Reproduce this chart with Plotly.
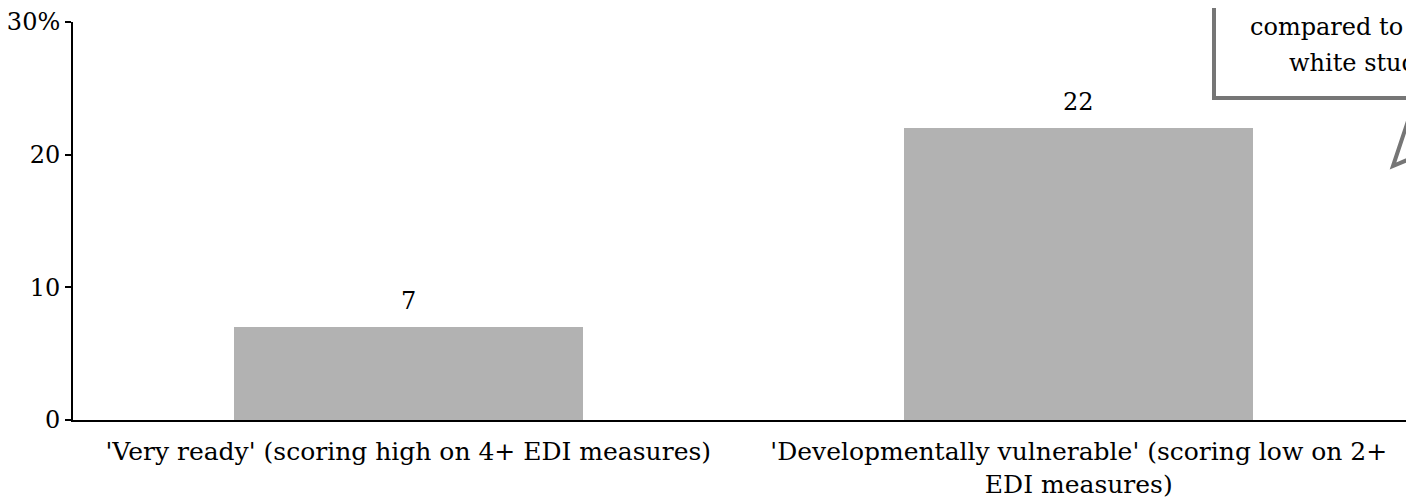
import plotly.graph_objects as go

# data
categories = [
    "'Very ready' (scoring high on 4+ EDI measures)",
    "'Developmentally vulnerable' (scoring low on 2+<br>EDI measures)",
]
values = [7, 22]
y_ticks = [0, 10, 20, 30]
y_tick_labels = ["0", "10", "20", "30%"]
callout_lines = ["compared to their", "white students"]

FONT = "DejaVu Serif, serif"
GREY_LINE = "#767676"

# the page body has an 8px margin, so the figure is sized to fill the rest
PLOT_L, PLOT_T, PLOT_W, PLOT_H = 73, 22, 1341, 398


def px_x(v):
    return (v - PLOT_L) / PLOT_W


def px_y(v):
    return (PLOT_T + PLOT_H - v) / PLOT_H


fig = go.Figure()
fig.add_trace(go.Bar(
    x=list(range(len(categories))),
    y=values,
    width=0.52,
    marker=dict(color="#b2b2b2", line=dict(width=0)),
    hoverinfo="skip",
))

# value labels sit a bit higher above the bars than plotly's default
for i, v in enumerate(values):
    fig.add_annotation(x=i, y=v, text=str(v), showarrow=False,
                       xanchor="center", yanchor="bottom", yshift=10,
                       font=dict(size=24, color="black", family=FONT))

# callout box (mostly off to the right of the visible area)
fig.add_shape(type="rect", xref="paper", yref="paper",
              x0=px_x(1214), x1=1.3, y0=px_y(98), y1=1.3,
              line=dict(color=GREY_LINE, width=4), fillcolor="white", layer="above")
fig.add_shape(type="path", xref="paper", yref="paper",
              path=f"M {px_x(1415)},{px_y(100)} L {px_x(1393)},{px_y(166)} L {px_x(1440)},{px_y(146)}",
              line=dict(color=GREY_LINE, width=4), layer="above")

fig.add_annotation(text=callout_lines[0], xref="paper", yref="paper",
                   x=px_x(1248), y=px_y(27),
                   xanchor="left", yanchor="middle", showarrow=False,
                   font=dict(size=24, color="black", family=FONT))
fig.add_annotation(text=callout_lines[1], xref="paper", yref="paper",
                   x=px_x(1287), y=px_y(63),
                   xanchor="left", yanchor="middle", showarrow=False,
                   font=dict(size=24, color="black", family=FONT))

fig.update_layout(
    width=1406, height=494,
    margin=dict(l=PLOT_L - 8, r=0, t=PLOT_T - 8, b=494 - (PLOT_T - 8) - PLOT_H),
    plot_bgcolor="white", paper_bgcolor="white",
    showlegend=False,
    font=dict(family=FONT, size=24, color="black"),
    bargap=0,
)
fig.update_xaxes(
    range=[-0.5, 1.5],
    tickmode="array", tickvals=list(range(len(categories))), ticktext=categories,
    showline=True, linecolor="black", linewidth=2,
    ticks="", showgrid=False, zeroline=False,
    ticklabelstandoff=8,
    tickfont=dict(size=25, family=FONT, color="black"),
)
fig.update_yaxes(
    range=[0, 30],
    tickmode="array", tickvals=y_ticks, ticktext=y_tick_labels,
    showline=True, linecolor="black", linewidth=2,
    ticks="outside", ticklen=6, tickwidth=2, tickcolor="black",
    showgrid=False, zeroline=False,
    tickfont=dict(size=24, family=FONT, color="black"),
)

fig.write_html("out.html")
